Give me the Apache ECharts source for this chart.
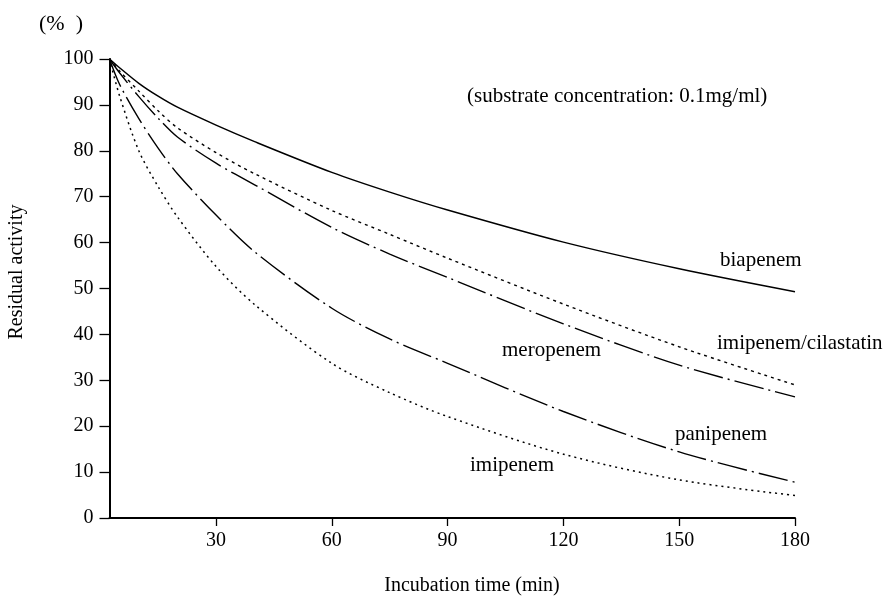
<!DOCTYPE html>
<html>
<head>
<meta charset="utf-8">
<script src="https://cdn.jsdelivr.net/npm/echarts@6/dist/echarts.min.js"></script>
<style>html,body{margin:0;padding:0;background:#fff}#c{width:889px;height:600px}</style>
</head>
<body>
<div id="c"></div>
<script>
const times = [2.4, 5, 10, 15, 20, 30, 40, 60, 75, 90, 120, 150, 180];
const biapenem = [100, 98.1, 94.7, 91.9, 89.5, 85.6, 82.0, 75.3, 71.0, 67.1, 60.1, 54.3, 49.3];
const imipenemCilastatin = [100, 97.4, 93.0, 88.7, 85.0, 79.6, 75.0, 67.0, 61.8, 56.6, 46.6, 37.3, 29.0];
const meropenem = [100, 97.0, 91.8, 87.1, 83.0, 77.3, 72.6, 63.3, 57.5, 52.4, 42.3, 33.3, 26.4];
const panipenem = [100, 94.5, 87.0, 80.6, 75.0, 66.0, 58.0, 45.7, 39.0, 33.7, 23.2, 14.4, 7.8];
const imipenem = [100, 92.0, 80.0, 72.2, 65.6, 54.8, 46.5, 33.7, 27.3, 22.1, 13.9, 8.3, 4.9];
const xTicks = [30, 60, 90, 120, 150, 180];
const yTicks = [0, 10, 20, 30, 40, 50, 60, 70, 80, 90, 100];

const FONT = 'Liberation Serif';
function pairs(vals) { return times.map((t, i) => [t, vals[i]]); }
function line(name, vals, type, width) {
  return {
    name, type: 'line', data: pairs(vals), smooth: 0.3, symbol: 'none',
    lineStyle: { color: '#000', width: width, type: type },
    silent: true, animation: false
  };
}
const chart = echarts.init(document.getElementById('c'), null, { renderer: 'canvas' });
chart.setOption({
  backgroundColor: '#fff',
  animation: false,
  grid: { left: 109.5, right: 94, top: 59, bottom: 82 },
  xAxis: {
    type: 'value', min: 2.4, max: 180,
    axisLine: { show: true, lineStyle: { color: '#000', width: 2 } },
    axisTick: { show: true, customValues: xTicks, length: 8, lineStyle: { color: '#000', width: 1.3 } },
    axisLabel: { customValues: xTicks, color: '#000', fontFamily: FONT, fontSize: 20, margin: 13 },
    splitLine: { show: false }
  },
  yAxis: {
    type: 'value', min: 0, max: 100, interval: 10,
    axisLine: { show: true, lineStyle: { color: '#000', width: 2 } },
    axisTick: { show: true, length: 10, lineStyle: { color: '#000', width: 1.3 } },
    axisLabel: { customValues: yTicks, color: '#000', fontFamily: FONT, fontSize: 20, margin: 16 },
    splitLine: { show: false }
  },
  series: [
    line('biapenem', biapenem, 'solid', 1.5),
    line('imipenem/cilastatin', imipenemCilastatin, [3, 4], 1.4),
    line('meropenem', meropenem, [30, 5, 2, 5], 1.4),
    line('panipenem', panipenem, [30, 5, 2, 5], 1.4),
    line('imipenem', imipenem, [2, 4], 1.5)
  ],
  graphic: [
    { type: 'text', left: 39, top: 13, style: { text: '(%  )', font: '22px ' + FONT, fill: '#000' } },
    { type: 'text', left: 467, top: 86, style: { text: '(substrate concentration: 0.1mg/ml)', font: '21px ' + FONT, fill: '#000' } },
    { type: 'text', left: 720, top: 250, style: { text: 'biapenem', font: '21px ' + FONT, fill: '#000' } },
    { type: 'text', left: 717, top: 333, style: { text: 'imipenem/cilastatin', font: '21px ' + FONT, fill: '#000' } },
    { type: 'text', left: 502, top: 340, style: { text: 'meropenem', font: '21px ' + FONT, fill: '#000' } },
    { type: 'text', left: 675, top: 424, style: { text: 'panipenem', font: '21px ' + FONT, fill: '#000' } },
    { type: 'text', left: 470, top: 455, style: { text: 'imipenem', font: '21px ' + FONT, fill: '#000' } },
    { type: 'text', x: 17, y: 272, rotation: Math.PI / 2, style: { text: 'Residual activity', font: '20px ' + FONT, fill: '#000', align: 'center', verticalAlign: 'middle' } },
    { type: 'text', x: 472, y: 586, style: { text: 'Incubation time (min)', font: '20px ' + FONT, fill: '#000', align: 'center', verticalAlign: 'middle' } }
  ]
});
</script>
</body>
</html>
